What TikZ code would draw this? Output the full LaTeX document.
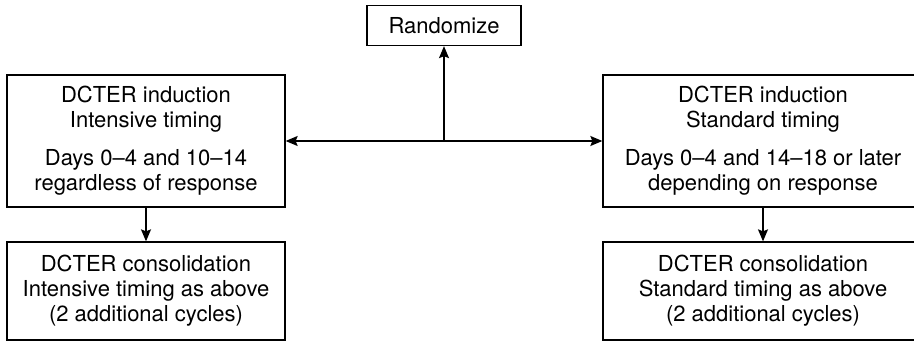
\documentclass[tikz,border=0pt]{standalone}
\usepackage{fontspec}
\setmainfont{TeX Gyre Heros}
\usetikzlibrary{arrows.meta, positioning}

\begin{document}
\begin{tikzpicture}[
    x=1pt, y=-1pt,
    box/.style={draw, line width=1.3pt, align=center, inner sep=0pt, font=\fontsize{22}{25}\selectfont},
    arrow/.style={-{Stealth[length=12pt, width=10pt, inset=2pt]}, line width=1.3pt},
    twoway/.style={{Stealth[length=12pt, width=10pt, inset=2pt]}-{Stealth[length=12pt, width=10pt, inset=2pt]}, line width=1.3pt}
]
    \useasboundingbox (0,0) rectangle (914,342);
    \clip (0,0) rectangle (914,342);
    \node[box, minimum width=154pt, minimum height=40pt] (rand) at (444,25.5) {Randomize};
    \node[box, minimum width=278pt, minimum height=132pt] (indL) at (146,141) {DCTER induction\\Intensive timing\\[13pt]Days 0--4 and 10--14\\regardless of response};
    \node[box, minimum width=320pt, minimum height=132pt] (indR) at (763,141) {DCTER induction\\Standard timing\\[13pt]Days 0--4 and 14--18 or later\\depending on response};
    \node[box, minimum width=278pt, minimum height=98pt] (conL) at (146,291) {DCTER consolidation\\Intensive timing as above\\(2 additional cycles)};
    \node[box, minimum width=320pt, minimum height=98pt] (conR) at (763,291) {DCTER consolidation\\Standard timing as above\\(2 additional cycles)};
    \draw[twoway] (indL.east) -- (indR.west);
    \draw[arrow] (rand.south |- indL.east) -- (rand.south);
    \draw[arrow] (indL.south) -- (conL.north);
    \draw[arrow] (indR.south) -- (conR.north);
\end{tikzpicture}
\end{document}
